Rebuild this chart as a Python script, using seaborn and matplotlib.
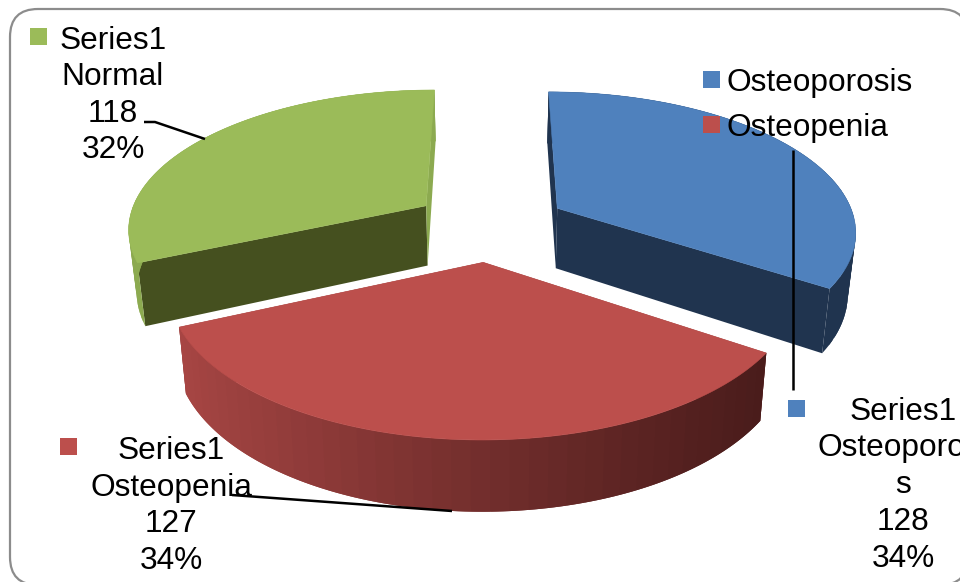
import numpy as np
import matplotlib
matplotlib.use("Agg")
import matplotlib.pyplot as plt
from matplotlib.patches import Polygon, Rectangle, FancyBboxPatch
from matplotlib.colors import to_rgb
import seaborn as sns

categories = ["Osteoporosis", "Osteopenia", "Normal"]
values = [128, 127, 118]
percents = ["34%", "34%", "32%"]
series_name = "Series1"
top_colors = ["#4F81BD", "#BC4F4C", "#9BBB59"]
cut_colors = ["#20344F", "#7A2E2C", "#45501F"]
end_colors = ["#20344F", "#7A2E2C", "#8CAA50"]
rim_light = ["#20344F", "#A84644", "#8CAA50"]
rim_dark = ["#20344F", "#4A1C1B", "#8CAA50"]

sns.set_theme(style="white")
plt.rcParams["font.family"] = ["Liberation Sans", "DejaVu Sans"]

fig, ax = plt.subplots(figsize=(9.6, 5.82), dpi=100)
ax.set_position([0, 0, 1, 1])
ax.set_xlim(0, 960)
ax.set_ylim(582, 0)
ax.axis("off")

ax.add_patch(FancyBboxPatch((10, 9), 958, 576,
                            boxstyle="round,pad=0,rounding_size=28",
                            fc="white", ec="#8C8C8C", lw=1.6, zorder=0))

CX, CY, A, B, K, EXPLODE, DEPTH = 490, 225, 299, 138.5, 0.15, 0.26, 61


def project(px, py, z=0.0):
    s = 1 / (1 + K * py)
    x = CX + A * px * s * (1 - 0.022 * z)
    y = CY - B * py * s + DEPTH * z * (1 - 0.14 * py)
    return x, y


edges = np.cumsum([0] + values) / sum(values) * 2 * np.pi
for i in [2, 0, 1]:
    t0, t1 = edges[i], edges[i + 1]
    mid = (t0 + t1) / 2
    ex, ey = EXPLODE * np.sin(mid), EXPLODE * np.cos(mid)
    th = np.linspace(t0, t1, 121)
    rx, ry = ex + np.sin(th), ey + np.cos(th)

    def face(px, py, color, zo):
        xt, yt = project(px, py, 0)
        xb, yb = project(px, py, 1)
        pts = np.r_[np.c_[xt, yt], np.c_[xb, yb][::-1]]
        ax.add_patch(Polygon(pts, closed=True, fc=color, ec="none", zorder=zo))

    face(np.array([ex, rx[0]]), np.array([ey, ry[0]]), cut_colors[i], 2 + i * 0.1)
    face(np.array([ex, rx[-1]]), np.array([ey, ry[-1]]), end_colors[i], 2 + i * 0.1)
    light, dark = np.array(to_rgb(rim_light[i])), np.array(to_rgb(rim_dark[i]))
    xs = project(rx, ry)[0]
    span = max(xs.max() - xs.min(), 1)
    order = np.argsort(xs)
    step = 3
    # Painted strip by strip from left to right; each one overlaps the next so no seams show.
    for j in order[::step]:
        f = np.clip((xs[j] - xs.min()) / span, 0, 1)
        col = light + (dark - light) * f ** 0.9
        lo, hi = max(j - step, 0), min(j + step + 1, len(th))
        face(rx[lo:hi], ry[lo:hi], col, 2.5 + i * 0.1)
    xt, yt = project(np.r_[ex, rx], np.r_[ey, ry], 0)
    ax.add_patch(Polygon(np.c_[xt, yt], closed=True, fc=top_colors[i], ec=top_colors[i],
                         lw=0.4, zorder=3 + i * 0.1))

FS = 22.8
line_kw = dict(color="black", lw=1.8, zorder=5, solid_capstyle="butt")
ax.plot([793, 793], [150, 390], **line_kw)
ax.plot([144, 155, 205], [122, 122, 139], **line_kw)
ax.plot([232, 452], [495, 511], **line_kw)


def block(cx, baselines, lines):
    for yb, t in zip(baselines, lines):
        ax.text(cx, yb, t, ha="center", va="baseline", fontsize=FS, color="black", zorder=6)


def square(x, y, color, size=17):
    ax.add_patch(Rectangle((x, y), size, size, fc=color, ec="none", zorder=6))


square(30, 28, top_colors[2])
block(113, [49, 85, 122, 158], [series_name, categories[2], str(values[2]), percents[2]])
square(60, 438, top_colors[1])
block(171, [459, 496, 532, 569], [series_name, categories[1], str(values[1]), percents[1]])
square(788, 400, top_colors[0])
block(903, [420, 456, 493, 530, 567],
      [series_name, categories[0][:-1], categories[0][-1], str(values[0]), percents[0]])

for yb, c, cat in zip([91, 136], top_colors[:2], categories[:2]):
    square(703, yb - 20, c)
    ax.text(726, yb, cat, ha="left", va="baseline", fontsize=FS, color="black", zorder=6)

fig.savefig("out.png", dpi=100)
